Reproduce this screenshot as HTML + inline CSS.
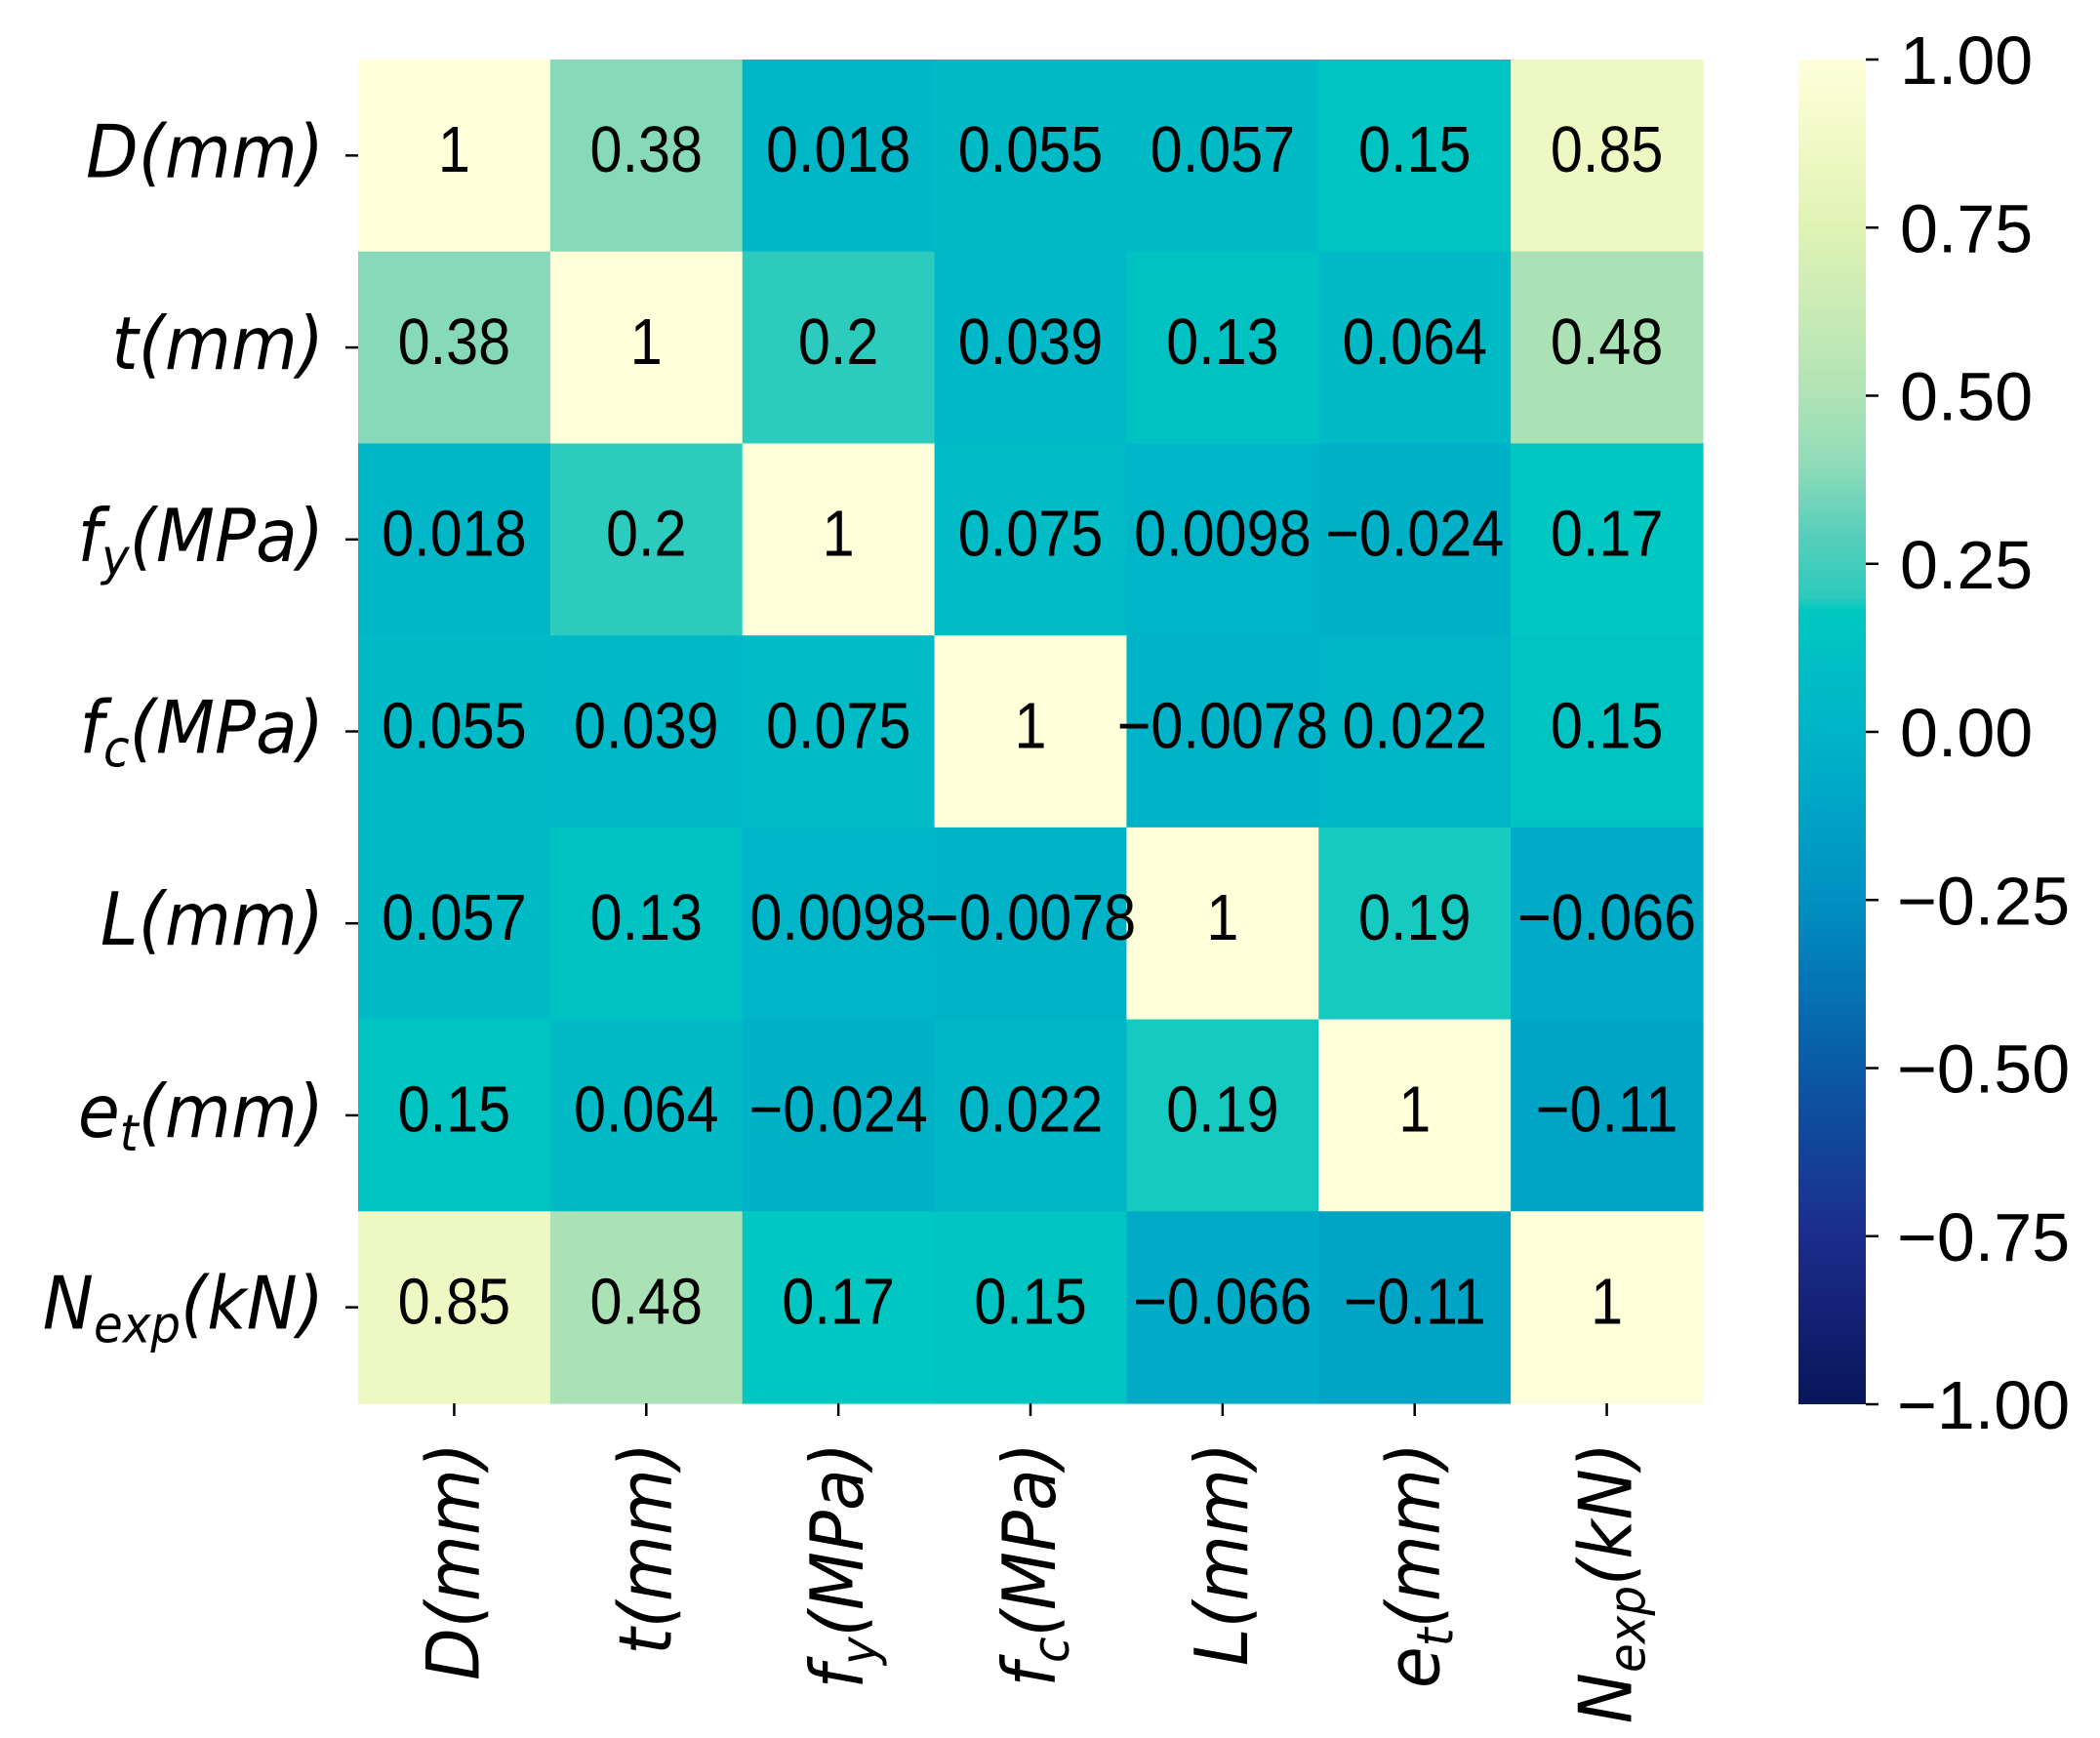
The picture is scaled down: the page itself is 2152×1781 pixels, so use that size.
<!DOCTYPE html>
<html><head><meta charset="utf-8"><style>
html,body{margin:0;padding:0;background:#fff;}
svg{display:block;}
.ann{font-family:"Liberation Sans",Arial,sans-serif;font-size:56px;fill:#000;}
.lab{font-family:"DejaVu Sans",sans-serif;font-style:italic;font-size:75px;fill:#000;}
.cbl{font-family:"Liberation Sans",Arial,sans-serif;font-size:70px;fill:#000;}
</style></head><body>
<svg id="chart" width="2152" height="1781" viewBox="0 0 2152 1781" xmlns="http://www.w3.org/2000/svg">
<defs>
<linearGradient id="cbgrad" x1="0" y1="1" x2="0" y2="0"></linearGradient>
</defs>
<g id="cells"></g>
<g id="annots"></g>
<g id="yaxis"></g>
<g id="xaxis"></g>
<g id="cbar"></g>
</svg>
<script>
const rowLabels = ["D|(mm)","t|(mm)","f|y|(MPa)","f|c|(MPa)","L|(mm)","e|t|(mm)","N|exp|(kN)"];
const values = [
 [1,0.38,0.018,0.055,0.057,0.15,0.85],
 [0.38,1,0.2,0.039,0.13,0.064,0.48],
 [0.018,0.2,1,0.075,0.0098,-0.024,0.17],
 [0.055,0.039,0.075,1,-0.0078,0.022,0.15],
 [0.057,0.13,0.0098,-0.0078,1,0.19,-0.066],
 [0.15,0.064,-0.024,0.022,0.19,1,-0.11],
 [0.85,0.48,0.17,0.15,-0.066,-0.11,1]
];
const cbarTicks = [1,0.75,0.5,0.25,0,-0.25,-0.5,-0.75,-1];
const cmapStops = [[-1,"#08165a"],[-0.75,"#1c2c8c"],[-0.5,"#0a5aa6"],[-0.25,"#0090c2"],[-0.1,"#00a6c6"],[0,"#00b4c8"],[0.1,"#00bec5"],[0.18,"#00c8c0"],[0.2,"#2ccbbd"],[0.3,"#5ccfbc"],[0.4,"#90dcb8"],[0.5,"#b0e3b5"],[0.75,"#e0f3b5"],[0.85,"#eef8c2"],[1,"#ffffda"]];

const NS="http://www.w3.org/2000/svg";
const GX=367, GY=61, GW=1378, GH=1377, N=rowLabels.length;
const CW=GW/N, CH=GH/N;
const CBX=1843, CBW=69, CBY=61, CBH=1378;
function xCell(j){return GX+j*CW;}
function yCell(i){return GY+i*CH;}
function yCbar(v){return CBY+(1-v)/2*CBH;}
function hex(c){return [1,3,5].map(k=>parseInt(c.substr(k,2),16));}
function color(v){
  for(let k=0;k<cmapStops.length-1;k++){
    const [a,ca]=cmapStops[k],[b,cb]=cmapStops[k+1];
    if(v>=a&&v<=b){const t=(v-a)/(b-a);const A=hex(ca),B=hex(cb);
      return "rgb("+A.map((x,i)=>Math.round(x+(B[i]-x)*t)).join(",")+")";}
  }
  return v<0?cmapStops[0][1]:cmapStops[cmapStops.length-1][1];
}
function fmt(v){return (v<0?"\u2212":"")+String(Math.abs(v));}
function el(tag,attrs,parent){const e=document.createElementNS(NS,tag);for(const k in attrs)e.setAttribute(k,attrs[k]);parent.appendChild(e);return e;}
function labelText(parent,lbl,attrs){
  const t=el("text",attrs,parent);
  const p=lbl.split("|");
  if(p.length===2){t.textContent=p[0]+p[1];}
  else{
    el("tspan",{},t).textContent=p[0];
    const s=el("tspan",{"font-size":"52px",dy:"14"},t);s.textContent=p[1];
    const r=el("tspan",{dy:"-14"},t);r.textContent=p[2];
  }
  return t;
}
const cells=document.getElementById("cells"),annots=document.getElementById("annots");
for(let i=0;i<N;i++)for(let j=0;j<N;j++){
  const v=values[i][j];
  const r=el("rect",{x:xCell(j),y:yCell(i),width:CW+0.6,height:CH+0.6,fill:color(v)},cells);
  
  
  const g=el("g",{transform:"translate("+(xCell(j)+CW/2)+","+(yCell(i)+CH/2)+") scale(1.06,1.2)"},annots);
  const t=el("text",{x:0,y:14,"text-anchor":"middle",class:"ann"},g);
  t.textContent=fmt(v);
  
  
}
const yaxis=document.getElementById("yaxis"),xaxis=document.getElementById("xaxis");
rowLabels.forEach((lbl,i)=>{
  const cy=yCell(i)+CH/2;
  el("line",{x1:GX-13,x2:GX,y1:cy,y2:cy,stroke:"#000","stroke-width":2.5},yaxis);
  const gy=el("g",{transform:"translate("+(GX-35)+","+(cy+22)+") scale(0.93,1)"},yaxis);
  const t=labelText(gy,lbl,{x:0,y:0,"text-anchor":"end",class:"lab"});
  
  
  const cx=xCell(i)+CW/2;
  el("line",{x1:cx,x2:cx,y1:GY+GH,y2:GY+GH+13,stroke:"#000","stroke-width":2.5},xaxis);
  const g=el("g",{transform:"translate("+(cx+25)+","+(GY+GH+40)+") rotate(-90) scale(0.93,1)"},xaxis);
  const xt=labelText(g,lbl,{x:0,y:0,"text-anchor":"end",class:"lab"});
  
  
});
const grad=document.getElementById("cbgrad");
cmapStops.forEach(s=>el("stop",{offset:((s[0]+1)/2*100)+"%","stop-color":s[1]},grad));
const cbar=document.getElementById("cbar");
const cr=el("rect",{x:CBX,y:CBY,width:CBW,height:CBH,fill:"url(#cbgrad)"},cbar);


cbarTicks.forEach(v=>{
  const y=yCbar(v);
  el("line",{x1:CBX+CBW,x2:CBX+CBW+13,y1:y,y2:y,stroke:"#000","stroke-width":2.5},cbar);
  const t=el("text",{x:CBX+CBW+(v<0?32:35),y:y+25,class:"cbl"},cbar);
  t.textContent=(v<0?"\u2212":"")+Math.abs(v).toFixed(2);
  
  
});
</script>
</body></html>
